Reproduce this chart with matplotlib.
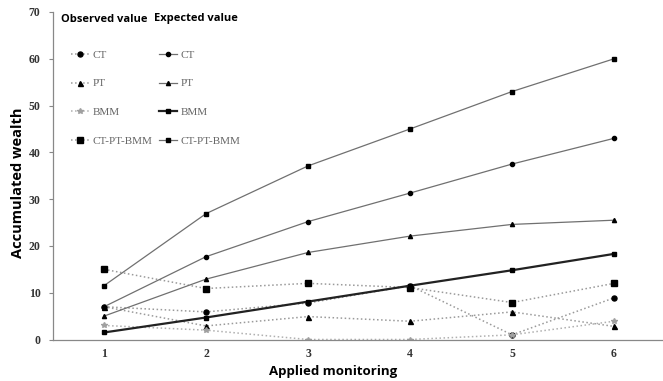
import matplotlib
matplotlib.use("Agg")
import matplotlib.pyplot as plt

x = [1, 2, 3, 4, 5, 6]

obs_ct = [7, 5.9, 7.8, 11.5, 1.0, 8.9]
obs_pt = [7, 2.9, 4.9, 3.9, 5.9, 2.8]
obs_bmm = [3.0, 2.0, 0.0, 0.0, 1.0, 3.9]
obs_all = [15, 10.9, 12.0, 11.1, 7.9, 12.0]

exp_ct = [7, 17.7, 25.2, 31.3, 37.5, 43.0]
exp_pt = [5, 12.9, 18.6, 22.1, 24.6, 25.5]
exp_bmm = [1.5, 4.7, 8.1, 11.5, 14.8, 18.3]
exp_all = [11.5, 26.9, 37.1, 45.0, 53.0, 60.0]

names = ["CT", "PT", "BMM", "CT-PT-BMM"]
y_ticks = [0, 10, 20, 30, 40, 50, 60, 70]

fig = plt.figure(figsize=(6.63, 3.81), dpi=100)
ax = fig.add_axes([53/663, 1-339.5/381, 1-53/663, (339.5-12)/381])

serif = "Liberation Serif"
obs_c = "#9a9a9a"
exp_c = "#707070"

h_obs = []
h_obs.append(ax.plot(x, obs_ct, ls=":", lw=1.1, color=obs_c, marker="o", ms=3.6, mfc="black", mec="black", label=names[0])[0])
h_obs.append(ax.plot(x, obs_pt, ls=":", lw=1.1, color=obs_c, marker="^", ms=3.6, mfc="black", mec="black", label=names[1])[0])
h_obs.append(ax.plot(x, obs_bmm, ls=":", lw=1.1, color="#b0b0b0", marker="*", ms=4, mfc="#a0a0a0", mec="#a0a0a0", label=names[2])[0])
h_obs.append(ax.plot(x, obs_all, ls=":", lw=1.1, color=obs_c, marker="s", ms=3.8, mfc="black", mec="black", label=names[3])[0])

h_exp = []
h_exp.append(ax.plot(x, exp_ct, ls="-", lw=0.9, color=exp_c, marker="o", ms=3, mfc="black", mec="black", label=names[0])[0])
h_exp.append(ax.plot(x, exp_pt, ls="-", lw=0.9, color=exp_c, marker="^", ms=3, mfc="black", mec="black", label=names[1])[0])
h_exp.append(ax.plot(x, exp_bmm, ls="-", lw=1.6, color="#222222", marker="s", ms=2.5, mfc="black", mec="black", label=names[2])[0])
h_exp.append(ax.plot(x, exp_all, ls="-", lw=0.9, color=exp_c, marker="s", ms=3.4, mfc="black", mec="black", label=names[3])[0])

ax.set_xlim(0.5, 6.48)
ax.set_ylim(0, 70)
ax.set_xticks(x)
ax.set_yticks(y_ticks)
for s in ["top", "right"]:
    ax.spines[s].set_visible(False)
for s in ["left", "bottom"]:
    ax.spines[s].set_color("#888888")
    ax.spines[s].set_linewidth(0.9)
ax.tick_params(axis="x", length=0, pad=6)
ax.tick_params(axis="y", length=3, color="#888888", pad=6)
for lab in ax.get_xticklabels() + ax.get_yticklabels():
    lab.set_fontfamily(serif)
    lab.set_fontweight("bold")
    lab.set_fontsize(8.5)
    lab.set_color("#333333")

fig.text(18/663, 1-183/381, "Accumulated wealth", rotation=90, ha="center", va="center",
         fontsize=10.5, fontweight="bold", fontfamily="Open Sans")
fig.text(333/663, 1-371/381, "Applied monitoring", ha="center", va="center",
         fontsize=9.5, fontweight="bold", fontfamily="Open Sans")

fig.text(61/663, 1-19/381, "Observed value", ha="left", va="center",
         fontsize=8, fontweight="bold", fontfamily="Open Sans")
fig.text(154/663, 1-19/381, "Expected value", ha="left", va="center",
         fontsize=8, fontweight="bold", fontfamily="Open Sans")

leg = ax.legend(h_obs + h_exp, [h.get_label() for h in h_obs + h_exp], ncol=2,
                loc="upper left", bbox_to_anchor=((71-53)/610, 1-(50-12)/(339.5-12)),
                frameon=False, prop={"family": serif, "size": 8},
                labelspacing=1.7, handlelength=1.6, handletextpad=0.35,
                columnspacing=0.6, borderaxespad=0, borderpad=0, markerscale=1.0)
for t in leg.get_texts():
    t.set_color("#666666")

fig.savefig("out.png", dpi=100)
